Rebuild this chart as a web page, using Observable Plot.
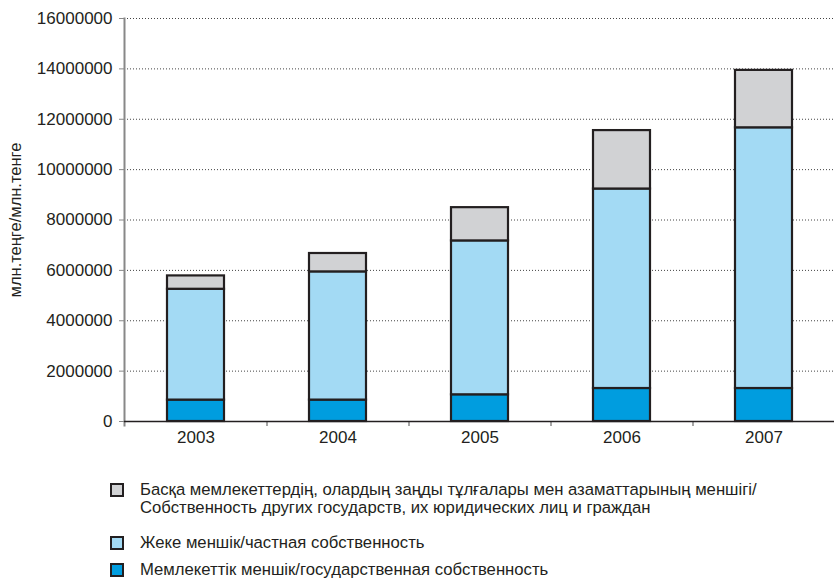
<!DOCTYPE html>
<html>
<head>
<meta charset="utf-8">
<script src="https://cdn.jsdelivr.net/npm/d3@7"></script>
<script src="https://cdn.jsdelivr.net/npm/@observablehq/plot@0.6"></script>
<style>
  body { margin: 0; background: #fff; font-family: "Liberation Sans", Arial, sans-serif; }
  #wrap { position: relative; width: 834px; height: 579px; overflow: hidden; }
  .item { position: absolute; left: 110px; }
  .sw { position: absolute; left: 0; width: 10px; height: 10px; border: 2px solid #231f20; }
  .tx { position: absolute; left: 30px; font-size: 16.7px; line-height: 18px; color: #231f20; white-space: nowrap; }
</style>
</head>
<body>
<div id="wrap"></div>
<script>
const years = ["2003", "2004", "2005", "2006", "2007"];
const seriesNames = [
  "Мемлекеттік меншік/государственная собственность",
  "Жеке меншік/частная собственность",
  "Басқа мемлекеттердің, олардың заңды тұлғалары мен азаматтарының меншігі/\nСобственность других государств, их юридических лиц и граждан"
];
const stateValues   = [850000, 850000, 1060000, 1310000, 1310000];
const privateValues = [4400000, 5090000, 6110000, 7920000, 10350000];
const foreignValues = [530000, 730000, 1320000, 2320000, 2280000];
const colors = ["#009ddf", "#a3daf4", "#d1d2d4"];
const yTicks = [0, 2000000, 4000000, 6000000, 8000000, 10000000, 12000000, 14000000, 16000000];
const yLabel = "млн.теңге/млн.тенге";

const seriesValues = [stateValues, privateValues, foreignValues];
const data = [];
seriesNames.forEach((s, si) => years.forEach((y, i) => data.push({year: y, series: s, value: seriesValues[si][i]})));

const plot = Plot.plot({
  width: 834,
  height: 460,
  marginLeft: 124,
  marginRight: 0,
  marginTop: 18,
  marginBottom: 39,
  style: {fontFamily: "'Liberation Sans', Arial, sans-serif", fontSize: "17px", color: "#231f20", background: "#fff"},
  x: {domain: years, paddingInner: 0.6, paddingOuter: 0.3, label: null},
  y: {domain: [0, 16000000], label: null},
  color: {domain: seriesNames, range: colors},
  marks: [
    Plot.ruleY(yTicks.filter(d => d > 0), {stroke: "#444", strokeDasharray: "1,2", strokeWidth: 1}),
    Plot.axisY({ticks: yTicks, tickFormat: d => String(d), tickSize: 5, tickPadding: 7, stroke: "#888", fill: "#231f20", label: null}),
    Plot.text([yLabel], {text: d => d, frameAnchor: "left", textAnchor: "middle", rotate: -90, dx: -109, fill: "#231f20", fontSize: 16.5}),
    Plot.axisX({tickSize: 0, tickPadding: 9, fill: "#231f20", label: null}),
    Plot.frame({anchor: "left", stroke: "#888", strokeWidth: 2, insetBottom: -4}),
    Plot.ruleX(years.slice(0, -1), {x: d => d, dx: 71, y1: 0, y2: 0, insetBottom: -5, stroke: "#888", strokeWidth: 1.5}),
    Plot.barY(data, {x: "year", y: "value", fill: "series", order: seriesNames, stroke: "#231f20", strokeWidth: 2.2}),
    Plot.ruleY([0], {stroke: "#231f20", strokeWidth: 1.5})
  ]
});
const wrap = document.getElementById("wrap");
wrap.appendChild(plot);

const legendItems = [
  {ci: 2, top: 483, lines: ["Басқа мемлекеттердің, олардың заңды тұлғалары мен азаматтарының меншігі/", "Собственность других государств, их юридических лиц и граждан"]},
  {ci: 1, top: 536, lines: ["Жеке меншік/частная собственность"]},
  {ci: 0, top: 563, lines: ["Мемлекеттік меншік/государственная собственность"]}
];
legendItems.forEach(it => {
  const div = document.createElement("div");
  div.className = "item";
  div.style.top = it.top + "px";
  const sw = document.createElement("div");
  sw.className = "sw";
  sw.style.background = colors[it.ci];
  div.appendChild(sw);
  const tx = document.createElement("div");
  tx.className = "tx";
  tx.style.top = "-2px";
  tx.innerHTML = it.lines.join("<br>");
  div.appendChild(tx);
  wrap.appendChild(div);
});
</script>
</body>
</html>
